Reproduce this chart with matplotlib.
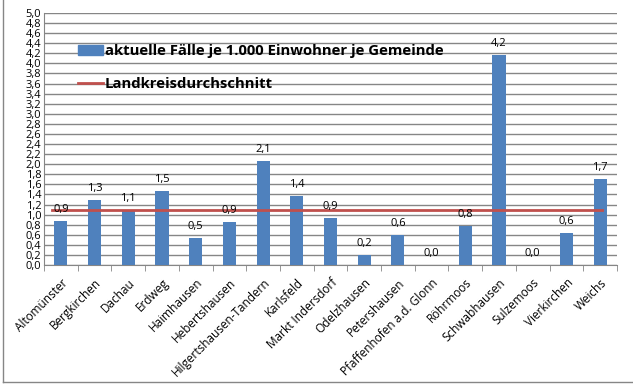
import matplotlib.pyplot as plt
from matplotlib.lines import Line2D
from matplotlib.patches import Patch

gemeinden = ["Altomünster", "Bergkirchen", "Dachau", "Erdweg", "Haimhausen",
             "Hebertshausen", "Hilgertshausen-Tandern", "Karlsfeld", "Markt Indersdorf",
             "Odelzhausen", "Petershausen", "Pfaffenhofen a.d. Glonn", "Röhrmoos",
             "Schwabhausen", "Sulzemoos", "Vierkirchen", "Weichs"]
faelle = [0.88, 1.28, 1.09, 1.47, 0.53, 0.86, 2.06, 1.37, 0.93,
          0.20, 0.60, 0.0, 0.77, 4.16, 0.0, 0.64, 1.71]
durchschnitt = 1.09

plt.rcParams['font.family'] = ['Open Sans', 'DejaVu Sans']

fig = plt.figure(figsize=(6.33, 3.91), dpi=100)
ax = fig.add_axes([44 / 633, 1 - 265 / 391, 573 / 633, 252 / 391])

x = list(range(len(gemeinden)))
ax.bar(x, faelle, width=0.39, color="#4f81bd", zorder=3)
ax.plot([-0.25, len(gemeinden) - 0.95], [durchschnitt, durchschnitt],
        color="#c0504d", lw=2, zorder=4)

for xi, v in zip(x, faelle):
    ax.text(xi, v + 0.12, f"{v:.1f}".replace(".", ","), ha="center", va="bottom",
            fontsize=8, zorder=5)

ax.set_xlim(-0.5, len(gemeinden) - 0.5)
ax.set_ylim(0, 5.0)
yt = [i / 5 for i in range(26)]
ax.set_yticks(yt)
ax.set_yticklabels([f"{t:.1f}".replace(".", ",") for t in yt], fontsize=8)
ax.tick_params(axis="y", length=0, pad=2)
ax.yaxis.grid(True, color="#868686", lw=1, zorder=0)
ax.set_xticks([i - 0.5 for i in range(len(gemeinden) + 1)], minor=True)
ax.set_xticks(x)
ax.set_xticklabels(gemeinden, rotation=45, ha="right", rotation_mode="anchor", fontsize=8.5)
ax.tick_params(axis="x", which="major", length=0, pad=8)
ax.tick_params(axis="x", which="minor", length=4, color="#868686")
for s in ["top", "right"]:
    ax.spines[s].set_visible(False)
for s in ["left", "bottom"]:
    ax.spines[s].set_color("#868686")

handles = [Patch(color="#4f81bd"), Line2D([], [], color="#c0504d", lw=2)]
labels = ["aktuelle Fälle je 1.000 Einwohner je Gemeinde", "Landkreisdurchschnitt"]
leg = ax.legend(handles, labels, loc="upper left", bbox_to_anchor=(0.036, 0.93),
                frameon=False, prop={"weight": "bold", "size": 10.7},
                handlelength=1.7, handletextpad=0.1, labelspacing=1.3)

fig.add_artist(Line2D([3 / 633, 3 / 633], [1, 1 - 382 / 391], color="#868686", lw=1))
fig.add_artist(Line2D([3 / 633, 1], [1 - 382 / 391, 1 - 382 / 391], color="#868686", lw=1))

fig.savefig("out.png", dpi=100)
